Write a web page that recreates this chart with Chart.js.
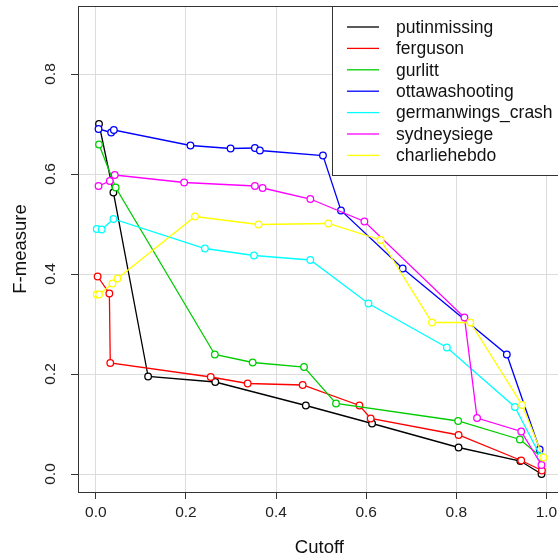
<!DOCTYPE html>
<html>
<head>
<meta charset="utf-8">
<script src="https://cdn.jsdelivr.net/npm/chart.js@4/dist/chart.umd.min.js"></script>
<style>
html,body{margin:0;padding:0;background:#fff;overflow:hidden;}
#wrap{width:566px;height:560px;}
</style>
</head>
<body>
<div id="wrap"><canvas id="c" width="566" height="560"></canvas></div>
<script>
// ---- data ----
const seriesNames = ["putinmissing","ferguson","gurlitt","ottawashooting","germanwings_crash","sydneysiege","charliehebdo"];
const seriesColors = ["#000000","#FF0000","#00CD00","#0000FF","#00FFFF","#FF00FF","#FFFF00"];

const putinmissingX = [0.007, 0.039, 0.116, 0.265, 0.466, 0.613, 0.805, 0.942, 0.989];
const putinmissingY = [0.700, 0.563, 0.195, 0.184, 0.137, 0.101, 0.053, 0.026, 0.000];

const fergusonX = [0.004, 0.030, 0.032, 0.255, 0.337, 0.459, 0.585, 0.610, 0.805, 0.944, 0.990];
const fergusonY = [0.395, 0.361, 0.222, 0.194, 0.181, 0.178, 0.137, 0.111, 0.078, 0.027, 0.007];

const gurlittX = [0.007, 0.044, 0.264, 0.348, 0.462, 0.533, 0.804, 0.941, 0.990];
const gurlittY = [0.659, 0.573, 0.239, 0.223, 0.214, 0.141, 0.106, 0.069, 0.033];

const ottawashootingX = [0.006, 0.034, 0.040, 0.210, 0.299, 0.353, 0.364, 0.504, 0.544, 0.681, 0.912, 0.985];
const ottawashootingY = [0.690, 0.683, 0.688, 0.657, 0.651, 0.652, 0.647, 0.637, 0.527, 0.411, 0.239, 0.049];

const germanwingsX = [0.002, 0.013, 0.039, 0.242, 0.351, 0.476, 0.605, 0.779, 0.930, 0.987];
const germanwingsY = [0.490, 0.489, 0.510, 0.451, 0.437, 0.428, 0.341, 0.253, 0.134, 0.035];

const sydneysiegeX = [0.006, 0.031, 0.042, 0.196, 0.353, 0.370, 0.476, 0.596, 0.818, 0.846, 0.944, 0.989];
const sydneysiegeY = [0.576, 0.586, 0.598, 0.583, 0.576, 0.572, 0.550, 0.505, 0.313, 0.112, 0.085, 0.018];

const charliehebdoX = [0.002, 0.007, 0.037, 0.048, 0.220, 0.361, 0.516, 0.632, 0.746, 0.831, 0.946, 0.993];
const charliehebdoY = [0.359, 0.359, 0.381, 0.391, 0.515, 0.499, 0.501, 0.468, 0.303, 0.303, 0.138, 0.033];

const xTickValues = [0.0, 0.2, 0.4, 0.6, 0.8, 1.0];
const yTickValues = [0.0, 0.2, 0.4, 0.6, 0.8];
const xTitle = "Cutoff";
const yTitle = "F-measure";

// ---- build datasets ----
const seriesX = [putinmissingX, fergusonX, gurlittX, ottawashootingX, germanwingsX, sydneysiegeX, charliehebdoX];
const seriesY = [putinmissingY, fergusonY, gurlittY, ottawashootingY, germanwingsY, sydneysiegeY, charliehebdoY];

const datasets = seriesNames.map((name, i) => ({
  label: name,
  data: seriesX[i].map((x, j) => ({x: x, y: seriesY[i][j]})),
  borderColor: seriesColors[i],
  backgroundColor: seriesColors[i],
  borderWidth: 1.3,
  pointRadius: 3.3,
  pointBorderWidth: 1.3,
  pointBorderColor: seriesColors[i],
  pointBackgroundColor: "#ffffff",
  tension: 0,
  showLine: true,
  order: -i
}));

const FONT = "'Liberation Sans', Arial, Helvetica, sans-serif";

const framePlugin = {
  id: "frameAndLegend",
  afterDatasetsDraw(chart) {
    const ctx = chart.ctx;
    const a = chart.chartArea;
    ctx.save();
    ctx.strokeStyle = "#333333";
    ctx.lineWidth = 1;
    ctx.strokeRect(Math.round(a.left) + 0.5, Math.round(a.top) + 0.5, Math.round(a.right - a.left), Math.round(a.bottom - a.top));
    // legend box (top-right inside the plot)
    const bx = 332.5, by = 6.5, bw = 230, bh = 169;
    ctx.fillStyle = "#ffffff";
    ctx.fillRect(bx, by, bw, bh);
    ctx.strokeRect(bx, by, bw, bh);
    ctx.font = "17.5px " + FONT;
    ctx.textBaseline = "middle";
    ctx.textAlign = "left";
    chart.data.datasets.forEach((ds, i) => {
      const y = 27 + i * 21.4;
      ctx.strokeStyle = ds.borderColor;
      ctx.lineWidth = 1.3;
      ctx.beginPath();
      ctx.moveTo(347, y);
      ctx.lineTo(379, y);
      ctx.stroke();
      ctx.fillStyle = "#111111";
      ctx.fillText(ds.label, 396, y + 1);
    });
    ctx.restore();
  }
};

new Chart(document.getElementById("c"), {
  type: "scatter",
  data: {datasets: datasets},
  plugins: [framePlugin],
  options: {
    responsive: false,
    animation: false,
    events: [],
    layout: {padding: {left: 0, right: 2, top: 6, bottom: 0}},
    plugins: {legend: {display: false}, tooltip: {enabled: false}},
    scales: {
      x: {
        type: "linear",
        min: -0.0396,
        max: 1.0316,
        afterBuildTicks: (s) => { s.ticks = xTickValues.map(v => ({value: v})); },
        afterFit: (s) => { s.height = 68; s.paddingLeft = 0; s.paddingRight = 0; },
        grid: {color: "#dcdcdc", lineWidth: 1, tickColor: "#333333", tickLength: 7, drawTicks: true},
        border: {display: true, color: "#333333", width: 1},
        ticks: {
          color: "#222222",
          font: {family: FONT, size: 15.5},
          padding: 4,
          maxRotation: 0, minRotation: 0,
          callback: (v) => Number(v).toFixed(1)
        },
        title: {display: true, text: xTitle, color: "#111111", font: {family: FONT, size: 18.5, lineHeight: 1.2}, padding: {top: 0, bottom: 1}}
      },
      y: {
        type: "linear",
        min: -0.036,
        max: 0.936,
        afterBuildTicks: (s) => { s.ticks = yTickValues.map(v => ({value: v})); },
        afterFit: (s) => { s.width = 78; s.paddingTop = 0; s.paddingBottom = 0; },
        grid: {color: "#dcdcdc", lineWidth: 1, tickColor: "#333333", tickLength: 7, drawTicks: true},
        border: {display: true, color: "#333333", width: 1},
        ticks: {
          color: "#222222",
          font: {family: FONT, size: 15.5},
          padding: 10,
          minRotation: 90, maxRotation: 90,
          crossAlign: "center",
          callback: (v) => Number(v).toFixed(1)
        },
        title: {display: true, text: yTitle, color: "#111111", font: {family: FONT, size: 18.5, lineHeight: 1.2}, padding: {top: 10, bottom: 0}}
      }
    }
  }
});
</script>
</body>
</html>
